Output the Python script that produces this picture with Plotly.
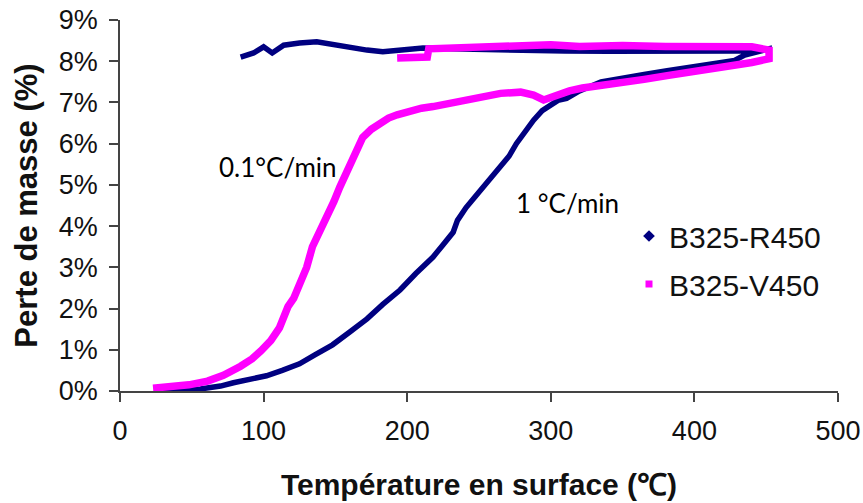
import plotly.graph_objects as go

# B325-R450 (1 °C/min): heating then cooling
temp_r450 = [30, 40, 56, 70, 79, 90, 102, 113, 125, 136, 148, 160, 172, 183, 195, 206, 218, 225, 232, 235,
             241, 247, 253, 259, 265, 271, 276, 282, 288, 294, 299, 305, 311, 320, 335, 350, 365, 381, 400,
             428, 435, 452, 452, 430, 400, 370, 340, 310, 280, 250, 230, 211, 197, 183, 172, 160, 148, 137,
             125, 114, 106, 100, 93, 87, 84]
loss_r450 = [0.0, 0.0, 0.05, 0.12, 0.2, 0.28, 0.37, 0.5, 0.66, 0.88, 1.12, 1.43, 1.75, 2.1, 2.45, 2.85, 3.25,
             3.55, 3.85, 4.14, 4.45, 4.7, 4.94, 5.2, 5.43, 5.7, 6.0, 6.3, 6.57, 6.8, 6.93, 7.05, 7.1, 7.28,
             7.5, 7.6, 7.68, 7.77, 7.88, 8.02, 8.15, 8.3, 8.28, 8.25, 8.24, 8.25, 8.24, 8.25, 8.26, 8.28,
             8.3, 8.32, 8.28, 8.23, 8.27, 8.35, 8.42, 8.47, 8.44, 8.39, 8.2, 8.35, 8.2, 8.14, 8.1]

# B325-V450 (0.1 °C/min): heating then cooling
temp_v450 = [23, 35, 48, 61, 72, 84, 92, 98, 105, 111, 117, 121, 125, 130, 134, 139, 144, 149, 153, 158, 162,
             166, 169, 175, 181, 187, 193, 200, 210, 218, 230, 241, 253, 265, 279, 288, 295, 300, 304, 313,
             322, 335, 350, 365, 381, 395, 410, 428, 440, 452, 452, 440, 420, 400, 380, 350, 320, 300, 280,
             260, 240, 225, 215, 214, 205, 193]
loss_v450 = [0.07, 0.1, 0.15, 0.24, 0.38, 0.6, 0.78, 0.97, 1.22, 1.53, 2.05, 2.25, 2.6, 3.0, 3.5, 3.85, 4.2,
             4.6, 4.94, 5.3, 5.67, 5.95, 6.15, 6.35, 6.5, 6.62, 6.7, 6.78, 6.86, 6.9, 6.98, 7.06, 7.14, 7.22,
             7.25, 7.18, 7.06, 7.12, 7.2, 7.28, 7.35, 7.4, 7.48, 7.56, 7.65, 7.72, 7.8, 7.9, 7.97, 8.06,
             8.27, 8.35, 8.35, 8.33, 8.36, 8.38, 8.36, 8.4, 8.38, 8.35, 8.33, 8.32, 8.3, 8.1, 8.1, 8.08]

series_names = ["B325-R450", "B325-V450"]
x_ticks = [0, 100, 200, 300, 400, 500]
y_ticks = [0, 1, 2, 3, 4, 5, 6, 7, 8, 9]
y_tick_text = [f"{v}%" for v in y_ticks]

NAVY = "#000080"
MAGENTA = "#FF00FF"
FONT = "Liberation Sans, Arial, sans-serif"
TXT = "#111111"
AX = "#444444"

# page pixels -> paper fractions (plot area spans x 120..838, y 20..391 on the page)
def px(xp):
    return (xp - 120) / 718

def py(yp):
    return (391 - yp) / 371

fig = go.Figure()
fig.add_trace(go.Scatter(x=temp_r450, y=loss_r450, mode="lines", showlegend=False,
                         line=dict(color=NAVY, width=5.5), hoverinfo="skip"))
fig.add_trace(go.Scatter(x=temp_v450, y=loss_v450, mode="lines", showlegend=False,
                         line=dict(color=MAGENTA, width=7.5), hoverinfo="skip"))
# legend entries (marker only)
fig.add_trace(go.Scatter(x=[None], y=[None], mode="markers", name=series_names[0],
                         marker=dict(symbol="diamond", color=NAVY, size=9), legendgroup="a"))
fig.add_trace(go.Scatter(x=[None], y=[None], mode="markers", name=series_names[1],
                         marker=dict(symbol="square", color=MAGENTA, size=7), legendgroup="b"))

fig.add_annotation(x=px(278), y=py(167), xref="paper", yref="paper", xanchor="center", yanchor="middle",
                   text="0.1°C/min", showarrow=False,
                   font=dict(family="Lato, sans-serif", size=26, color="black"))
fig.add_annotation(x=px(567), y=py(203), xref="paper", yref="paper", xanchor="center", yanchor="middle",
                   text="1 °C/min", showarrow=False,
                   font=dict(family="Lato, sans-serif", size=26, color="black"))

fig.update_layout(
    width=863, height=503,
    margin=dict(l=120, r=25, t=20, b=112),
    paper_bgcolor="white", plot_bgcolor="white",
    font=dict(family=FONT, size=26, color=TXT),
    legend=dict(x=px(629), y=py(210), xanchor="left", yanchor="top",
                font=dict(family=FONT, size=30, color=TXT),
                bgcolor="rgba(0,0,0,0)", tracegroupgap=6, itemsizing="trace"),
    xaxis=dict(range=[0, 500], tickvals=x_ticks, ticks="outside", ticklen=9, tickwidth=1.5,
               tickcolor=AX, showline=True, linecolor=AX, linewidth=1.5,
               showgrid=False, zeroline=False, automargin=False, ticklabelstandoff=6,
               ticklabeloverflow="allow",
               tickfont=dict(family=FONT, size=27, color=TXT),
               title=dict(text="<b>Température en surface (℃)</b>", standoff=29,
                          font=dict(family=FONT, size=30, color=TXT))),
    yaxis=dict(range=[0, 9], tickvals=y_ticks, ticktext=y_tick_text, ticks="outside", ticklen=9,
               tickwidth=1.5, tickcolor=AX, showline=True, linecolor=AX, linewidth=1.5,
               showgrid=False, zeroline=False, automargin=False, ticklabelstandoff=6,
               ticklabeloverflow="allow",
               tickfont=dict(family=FONT, size=27, color=TXT),
               title=dict(text="<b>Perte de masse (%)</b>", standoff=12,
                          font=dict(family=FONT, size=31, color=TXT))),
)

# remove the default 8px body margin so the figure fills the window exactly; hide the modebar
fig.write_html("out.html", config={"displayModeBar": False},
               post_script="document.body.style.margin='0';")
